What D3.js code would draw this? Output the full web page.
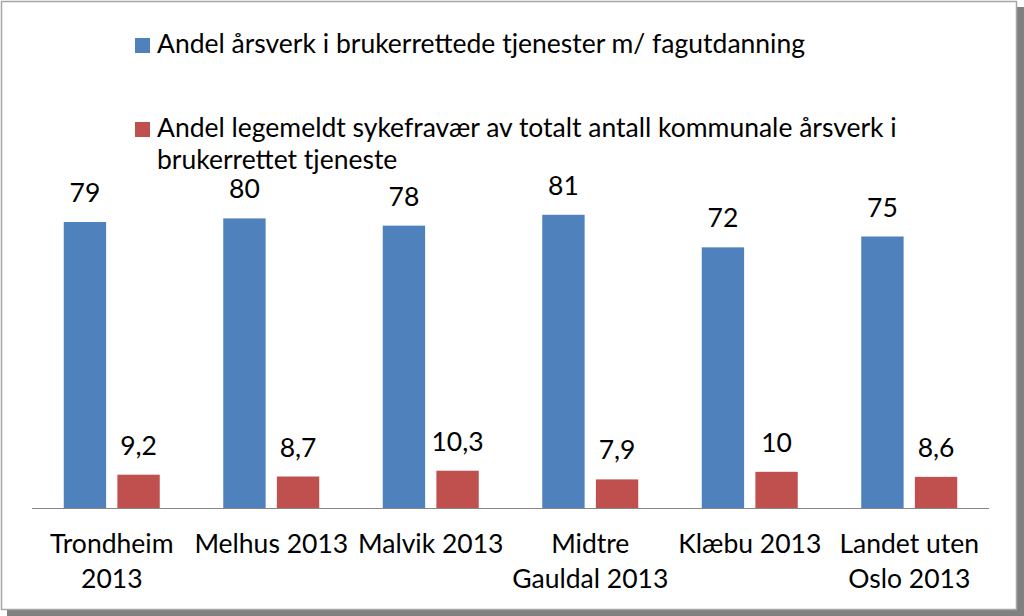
<!DOCTYPE html>
<html>
<head>
<meta charset="UTF-8">
<style>
    body { margin: 0; background: #fff; }
    svg text { font-family: Lato, "Open Sans", sans-serif; fill: #000; }
</style>
</head>
<body>
<svg width="1024" height="616"></svg>
<script src="https://d3js.org/d3.v7.min.js"></script>
<script>

// data
let categories = [["Trondheim", "2013"], ["Melhus 2013"], ["Malvik 2013"], ["Midtre", "Gauldal 2013"], ["Klæbu 2013"], ["Landet uten", "Oslo 2013"]]
let fagutdanning = [79, 80, 78, 81, 72, 75]
let sykefravaer = [9.2, 8.7, 10.3, 7.9, 10, 8.6]
let seriesNames = [
    ["Andel årsverk i brukerrettede tjenester m/ fagutdanning"],
    ["Andel legemeldt sykefravær av totalt antall kommunale årsverk i", "brukerrettet tjeneste"]
]
let colors = ["#4F81BD", "#C0504D"]

let svg = d3.select("svg")
let fontSize = 26.5

// frame with shadow
svg.append("rect").attr("x", 7).attr("y", 7).attr("width", 1017).attr("height", 609).attr("fill", "#808080")
svg.append("rect").attr("x", 1.5).attr("y", 1.5).attr("width", 1015).attr("height", 608)
    .attr("fill", "#fff").attr("stroke", "#a6a6a6").attr("stroke-width", 1.5)

let x = d3.scaleBand()
    .domain(d3.range(categories.length))
    .range([32, 989])

let inner = d3.scaleBand()
    .domain([0, 1])
    .range([x.bandwidth() / 2 - 48, x.bandwidth() / 2 + 48])
    .paddingInner(0.21)

let y = d3.scaleLinear().domain([0, 100]).range([508, 146])

let series = [fagutdanning, sykefravaer]
let fmt = v => String(v).replace(".", ",")

series.forEach((vals, s) => {
    let g = svg.append("g")
    g.selectAll("rect")
        .data(vals)
        .enter()
        .append("rect")
        .attr("x", (d, i) => x(i) + inner(s))
        .attr("width", inner.bandwidth())
        .attr("y", d => y(d))
        .attr("height", d => y(0) - y(d))
        .attr("fill", colors[s])

    g.selectAll("text")
        .data(vals)
        .enter()
        .append("text")
        .attr("x", (d, i) => x(i) + inner(s) + inner.bandwidth() / 2)
        .attr("y", d => y(d) - 20)
        .attr("text-anchor", "middle")
        .style("font-size", fontSize + "px")
        .text(d => fmt(d))
})

// baseline
svg.append("line")
    .attr("x1", 32).attr("x2", 989)
    .attr("y1", y(0) + 0.5).attr("y2", y(0) + 0.5)
    .attr("stroke", "#868686").attr("stroke-width", 1)

// category labels
let cat = svg.append("g").selectAll("text")
    .data(categories)
    .enter()
    .append("text")
    .attr("text-anchor", "middle")
    .style("font-size", fontSize + "px")
    .attr("transform", (d, i) => "translate(" + (x(i) + x.bandwidth() / 2) + ",553)")

cat.selectAll("tspan")
    .data(d => d)
    .enter()
    .append("tspan")
    .attr("x", 0)
    .attr("y", (d, i) => i * 35)
    .text(d => d)

// legend
let legendY = [53, 137]
seriesNames.forEach((lines, s) => {
    svg.append("rect")
        .attr("x", 135).attr("y", legendY[s] - 15)
        .attr("width", 15).attr("height", 15)
        .attr("fill", colors[s])
    let t = svg.append("text")
        .attr("x", 157).attr("y", legendY[s])
        .style("font-size", fontSize + "px")
    lines.forEach((l, i) => {
        t.append("tspan").attr("x", 157).attr("y", legendY[s] + i * 32).text(l)
    })
})

</script>
</body>
</html>
